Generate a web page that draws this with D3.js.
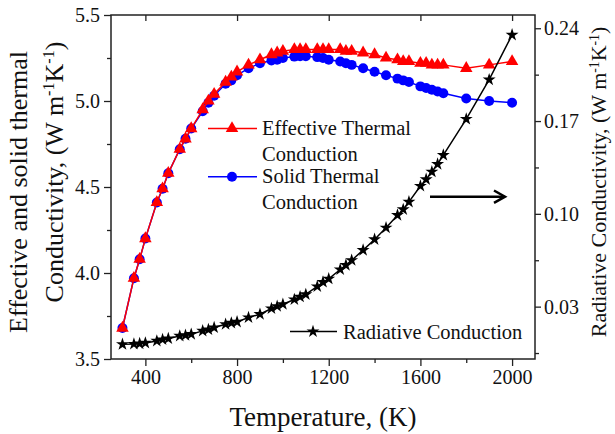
<!DOCTYPE html>
<html>
<head>
<meta charset="utf-8">
<script src="https://cdn.jsdelivr.net/npm/d3@7.9.0/dist/d3.min.js"></script>
<style>
  body { margin: 0; background: #fff; }
  svg { font-family: "Liberation Serif", "Times New Roman", serif; }
</style>
</head>
<body>
<svg id="chart" width="615" height="434"></svg>
<script>
// temperature grid (K)
const temps = [300, 350, 375, 400, 450, 475, 500, 550, 575, 600, 650, 675, 700,
  750, 775, 800, 850, 900, 950, 975, 1000, 1050, 1075, 1100, 1150, 1175, 1200,
  1250, 1275, 1300, 1350, 1400, 1450, 1500, 1525, 1550, 1600, 1625, 1650, 1675,
  1700, 1800, 1900, 2000];

// effective thermal conductivity (left axis)
const effective = [3.68, 3.97, 4.08, 4.20, 4.41, 4.49, 4.58, 4.72, 4.78, 4.84,
  4.95, 5.00, 5.04, 5.11, 5.14, 5.17, 5.21, 5.24, 5.27, 5.28, 5.29, 5.30, 5.30,
  5.30, 5.30, 5.30, 5.30, 5.30, 5.29, 5.29, 5.28, 5.27, 5.25, 5.24, 5.23, 5.23,
  5.22, 5.22, 5.21, 5.21, 5.21, 5.19, 5.21, 5.23];

// solid thermal conductivity (left axis)
const solid = [3.68, 3.97, 4.08, 4.20, 4.41, 4.49, 4.58, 4.72, 4.78, 4.84,
  4.94, 4.99, 5.03, 5.10, 5.12, 5.15, 5.19, 5.22, 5.235, 5.24, 5.25, 5.258, 5.26,
  5.26, 5.255, 5.25, 5.24, 5.23, 5.22, 5.21, 5.19, 5.17, 5.15, 5.13, 5.12, 5.11,
  5.085, 5.075, 5.065, 5.055, 5.045, 5.015, 5.0, 4.99];

// radiative conductivity (right axis)
const radiative = [0.0016, 0.0018, 0.0021, 0.0026, 0.0041, 0.0052, 0.0059,
  0.0079, 0.0084, 0.0092, 0.0117, 0.0127, 0.0142, 0.0167, 0.0177, 0.0185,
  0.0218, 0.0243, 0.0286, 0.0303, 0.0318, 0.0354, 0.0374, 0.0392, 0.0452,
  0.0485, 0.0510, 0.0580, 0.0613, 0.0650, 0.0726, 0.0807, 0.0895, 0.0990,
  0.1033, 0.1090, 0.1210, 0.1260, 0.1317, 0.1375, 0.1443, 0.1715, 0.2012, 0.2350];

// tick values
const xTicks = [400, 800, 1200, 1600, 2000];
const xMinor = [600, 1000, 1400, 1800];
const yLeftTicks = [3.5, 4.0, 4.5, 5.0, 5.5];
const yLeftMinor = [3.75, 4.25, 4.75, 5.25];
const yRightTicks = [0.03, 0.10, 0.17, 0.24];
const yRightMinor = [-0.005, 0.065, 0.135, 0.205];

const svg = d3.select("#chart");
const pLeft = 111, pRight = 535, pTop = 15, pBottom = 359;

const x = d3.scaleLinear().domain([250, 2100]).range([pLeft, pRight]);
const yL = d3.scaleLinear().domain([3.5, 5.5]).range([pBottom, pTop]);
const yR = d3.scaleLinear().domain([-0.0095, 0.25]).range([pBottom, pTop]);

const tickFont = 20;

// --- axes ---
svg.append("g").attr("transform", `translate(0,${pBottom})`)
  .call(d3.axisBottom(x).tickValues(xTicks).tickSize(7).tickPadding(4).tickFormat(d3.format("d")));
svg.append("g").attr("transform", `translate(0,${pBottom})`)
  .call(d3.axisBottom(x).tickValues(xMinor).tickSize(4).tickFormat(""));
svg.append("g").attr("transform", `translate(0,${pTop})`)
  .call(d3.axisBottom(x).tickValues(xTicks).tickSize(6).tickFormat(""));

svg.append("g").attr("transform", `translate(${pLeft},0)`)
  .call(d3.axisLeft(yL).tickValues(yLeftTicks).tickSize(7).tickPadding(4).tickFormat(d3.format(".1f")));
svg.append("g").attr("transform", `translate(${pLeft},0)`)
  .call(d3.axisLeft(yL).tickValues(yLeftMinor).tickSize(4).tickFormat(""));

svg.append("g").attr("transform", `translate(${pRight},0)`)
  .call(d3.axisRight(yR).tickValues(yRightTicks).tickSize(6).tickPadding(3).tickFormat(d3.format(".2f")));
svg.append("g").attr("transform", `translate(${pRight},0)`)
  .call(d3.axisRight(yR).tickValues(yRightMinor).tickSize(4).tickFormat(""));

svg.selectAll(".domain").remove();
svg.selectAll(".tick line").attr("stroke", "#222").attr("stroke-width", 1.3);
svg.selectAll(".tick text").attr("font-size", tickFont).attr("font-family", "Liberation Serif").attr("fill", "#111");

// frame
svg.append("rect")
  .attr("x", pLeft).attr("y", pTop)
  .attr("width", pRight - pLeft).attr("height", pBottom - pTop)
  .attr("fill", "none").attr("stroke", "#222").attr("stroke-width", 1.5);

// --- series ---
const rows = temps.map((t, i) => ({ t, eff: effective[i], sol: solid[i], rad: radiative[i] }));

const triangle = d3.symbol().type(d3.symbolTriangle).size(68);
const circle = d3.symbol().type(d3.symbolCircle).size(78);
const star = d3.symbol().type(d3.symbolStar).size(52);

// blue: solid
svg.append("path").datum(rows)
  .attr("fill", "none").attr("stroke", "#0000ff").attr("stroke-width", 1.5)
  .attr("d", d3.line().x(d => x(d.t)).y(d => yL(d.sol)));
svg.append("g").selectAll("path").data(rows).join("path")
  .attr("transform", d => `translate(${x(d.t)},${yL(d.sol)})`)
  .attr("d", circle).attr("fill", "#0000ff");

// red: effective
svg.append("path").datum(rows)
  .attr("fill", "none").attr("stroke", "#ff0000").attr("stroke-width", 1.5)
  .attr("d", d3.line().x(d => x(d.t)).y(d => yL(d.eff)));
svg.append("g").selectAll("path").data(rows).join("path")
  .attr("transform", d => `translate(${x(d.t)},${yL(d.eff)})`)
  .attr("d", triangle).attr("fill", "#ff0000");

// black: radiative (right axis)
svg.append("path").datum(rows)
  .attr("fill", "none").attr("stroke", "#000").attr("stroke-width", 1.5)
  .attr("d", d3.line().x(d => x(d.t)).y(d => yR(d.rad)));
svg.append("g").selectAll("path").data(rows).join("path")
  .attr("transform", d => `translate(${x(d.t)},${yR(d.rad)})`)
  .attr("d", star).attr("fill", "#000");

// --- legends ---
const legendFont = 20.5;
function legendLine(y0, color, sym, x0, x1, xm) {
  svg.append("line").attr("x1", x0).attr("x2", x1).attr("y1", y0).attr("y2", y0)
    .attr("stroke", color).attr("stroke-width", 1.5);
  svg.append("path").attr("transform", `translate(${xm},${y0})`).attr("d", sym).attr("fill", color);
}
function legendText(tx, ty, str) {
  svg.append("text").attr("x", tx).attr("y", ty)
    .attr("font-size", legendFont).attr("fill", "#111").text(str);
}

legendLine(128.5, "#ff0000", triangle, 208, 257, 232);
legendText(262, 135, "Effective Thermal");
legendText(262, 161, "Conduction");
legendLine(176.7, "#0000ff", circle, 208, 257, 232);
legendText(262, 183.3, "Solid Thermal");
legendText(262, 208.5, "Conduction");

legendLine(331.5, "#000", star, 290, 337, 313);
legendText(343, 338.5, "Radiative Conduction");

// arrow pointing to the right axis
svg.append("line").attr("x1", 430).attr("x2", 504).attr("y1", 196.7).attr("y2", 196.7)
  .attr("stroke", "#000").attr("stroke-width", 2.5);
svg.append("path").attr("d", "M494,190.5 L505,196.7 L494,202.9")
  .attr("fill", "none").attr("stroke", "#000").attr("stroke-width", 2.5);

// --- axis titles ---
svg.append("text").attr("x", 323).attr("y", 426)
  .attr("text-anchor", "middle").attr("font-size", 27).attr("fill", "#111")
  .text("Temperature, (K)");

// helper to append "(W m-1K-1)" with raised exponents
function unitSpans(t) {
  t.append("tspan").text("(W m");
  t.append("tspan").attr("baseline-shift", "0.55em").attr("font-size", "0.62em").text("-1");
  t.append("tspan").text("K");
  t.append("tspan").attr("baseline-shift", "0.55em").attr("font-size", "0.62em").text("-1");
  t.append("tspan").text(")");
}

svg.append("text")
  .attr("transform", "translate(27,192) rotate(-90)")
  .attr("text-anchor", "middle").attr("font-size", 26).attr("fill", "#111")
  .text("Effective and solid thermal");
const lt2 = svg.append("text")
  .attr("transform", "translate(63,172) rotate(-90)")
  .attr("text-anchor", "middle").attr("font-size", 26).attr("fill", "#111");
lt2.append("tspan").text("Conductivity, ");
unitSpans(lt2);

const rt = svg.append("text")
  .attr("transform", "translate(606,182) rotate(-90)")
  .attr("text-anchor", "middle").attr("font-size", 22).attr("fill", "#111");
rt.append("tspan").text("Radiative Conductivity, ");
unitSpans(rt);
</script>
</body>
</html>
